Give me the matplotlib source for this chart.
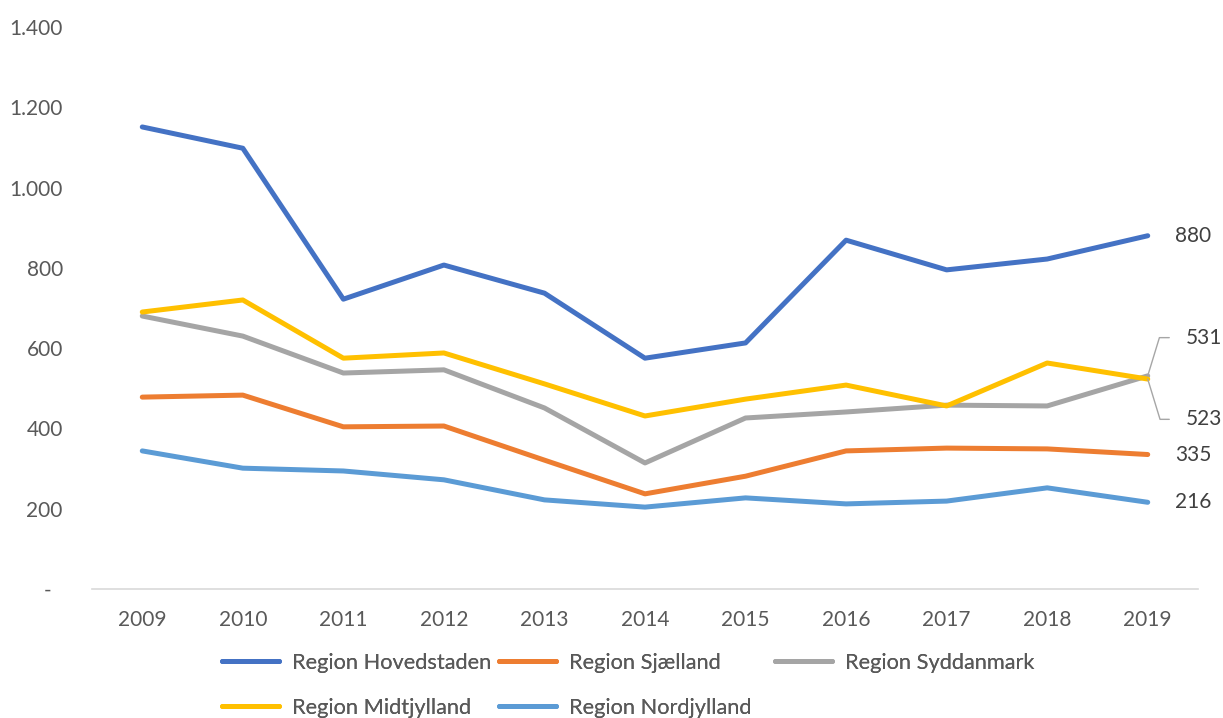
import matplotlib
matplotlib.use("Agg")
from matplotlib import pyplot as plt

plt.rcParams['font.family'] = ['Lato', 'DejaVu Sans']

years = ["2009", "2010", "2011", "2012", "2013", "2014", "2015", "2016", "2017", "2018", "2019"]
hovedstaden = [1151, 1098, 722, 807, 737, 575, 613, 869, 795, 822, 880]
sjaelland = [478, 483, 404, 406, 321, 237, 281, 344, 351, 349, 335]
syddanmark = [680, 630, 538, 546, 451, 314, 426, 441, 458, 456, 531]
midtjylland = [690, 720, 575, 588, 511, 431, 473, 508, 456, 563, 523]
nordjylland = [344, 301, 294, 272, 222, 204, 227, 212, 219, 252, 216]

names = ["Region Hovedstaden", "Region Sjælland", "Region Syddanmark",
         "Region Midtjylland", "Region Nordjylland"]
colors = ["#4472C4", "#ED7D31", "#A5A5A5", "#FFC000", "#5B9BD5"]
y_ticks = [0, 200, 400, 600, 800, 1000, 1200, 1400]
y_labels = ["-  ", "200", "400", "600", "800", "1.000", "1.200", "1.400"]

fig = plt.figure(figsize=(12.23, 7.18), dpi=100)
ax = fig.add_axes([92 / 1223, 1 - 589 / 718, (1198 - 92) / 1223, (589 - 27) / 718])

series = [hovedstaden, sjaelland, syddanmark, midtjylland, nordjylland]
x = list(range(len(years)))
handles = []
for vals, name, col in zip(series, names, colors):
    h, = ax.plot(x, vals, color=col, lw=3.6, label=name,
                 solid_capstyle="round", solid_joinstyle="round")
    handles.append(h)

ax.set_xlim(-0.5, len(years) - 0.5)
ax.set_ylim(0, 1400)
ax.set_xticks(x)
ax.set_xticklabels(years)
ax.set_yticks(y_ticks)
ax.set_yticklabels(y_labels)
ax.tick_params(axis="x", length=0, pad=15, labelsize=15, labelcolor="#595959")
ax.tick_params(axis="y", length=0, pad=21, labelsize=15, labelcolor="#595959")
for s in ["top", "right", "left"]:
    ax.spines[s].set_visible(False)
ax.spines["bottom"].set_color("#D9D9D9")
ax.spines["bottom"].set_linewidth(1.2)

# end labels
last = len(years) - 1
lab_kw = dict(fontsize=15, color="#404040", va="center", ha="left",
              textcoords="offset points")
for vals in [hovedstaden, sjaelland, nordjylland]:
    ax.annotate(str(vals[-1]), (last, vals[-1]), xytext=(19.5, 0), **lab_kw)

leader = dict(arrowstyle="-", color="#A6A6A6", lw=1.0, shrinkA=10, shrinkB=0,
              relpos=(0, 0.5))
ax.annotate(str(syddanmark[-1]), (last, syddanmark[-1]), xytext=(27.5, 27.5),
            arrowprops=dict(connectionstyle="angle,angleA=0,angleB=73,rad=0", **leader),
            **lab_kw)
ax.annotate(str(midtjylland[-1]), (last, midtjylland[-1]), xytext=(27.5, -29),
            arrowprops=dict(connectionstyle="angle,angleA=0,angleB=-73,rad=0", **leader),
            **lab_kw)

# Excel fills the legend row by row with equal column widths
columns = [[0, 3], [1, 4], [2]]
col_x = [222, 499, 775]
for idx, cx in zip(columns, col_x):
    leg = fig.legend([handles[i] for i in idx], [names[i] for i in idx],
                     loc="upper left", bbox_to_anchor=(cx / 1223, 1 - 653 / 718),
                     ncol=1, frameon=False, fontsize=15.7, labelcolor="#595959",
                     handlelength=2.6, handletextpad=0.62,
                     labelspacing=1.15, borderpad=0, borderaxespad=0)
    fig.add_artist(leg)

fig.savefig("out.png", dpi=100)
